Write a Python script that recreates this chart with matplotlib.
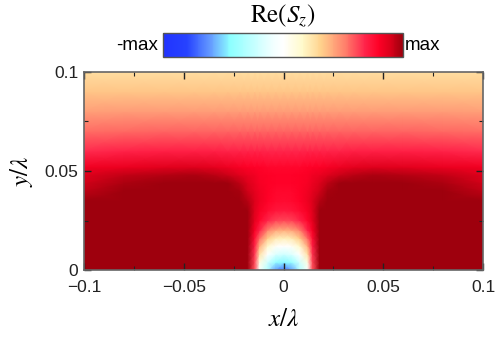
import numpy as np
import matplotlib
matplotlib.use("Agg")
import matplotlib.pyplot as plt
from matplotlib.colors import LinearSegmentedColormap, Normalize

plt.rcParams["font.family"] = ["Liberation Sans", "DejaVu Sans"]
plt.rcParams["mathtext.fontset"] = "stix"

# ── data: Re(Sz), normalised to max (left half, x <= 0) ──
x_left = [-0.1, -0.08, -0.06, -0.045, -0.035, -0.028, -0.022, -0.018,
          -0.0145, -0.012, -0.008, -0.004, 0.0]
y_rows = [0.0, 0.004, 0.008, 0.012, 0.016, 0.02, 0.025, 0.03, 0.035,
          0.04, 0.044, 0.048, 0.052, 0.06, 0.07, 0.08, 0.09, 0.1]
sz_left = [
    [1.60, 1.60, 1.60, 1.60, 1.60, 1.60, 1.60, 1.40, 0.60, -0.05, -0.30, -0.60, -0.70],
    [1.60, 1.60, 1.60, 1.60, 1.60, 1.60, 1.55, 1.35, 0.62, 0.10, -0.20, -0.40, -0.45],
    [1.55, 1.55, 1.55, 1.55, 1.55, 1.55, 1.50, 1.30, 0.65, 0.25, 0.00, -0.15, -0.20],
    [1.50, 1.50, 1.50, 1.50, 1.50, 1.50, 1.45, 1.25, 0.70, 0.40, 0.15, 0.03, 0.00],
    [1.45, 1.45, 1.45, 1.45, 1.45, 1.45, 1.40, 1.20, 0.75, 0.55, 0.33, 0.22, 0.20],
    [1.40, 1.40, 1.40, 1.40, 1.40, 1.35, 1.30, 1.12, 0.82, 0.68, 0.50, 0.42, 0.40],
    [1.30, 1.32, 1.35, 1.35, 1.33, 1.28, 1.20, 1.05, 0.86, 0.78, 0.68, 0.63, 0.62],
    [1.15, 1.22, 1.27, 1.28, 1.26, 1.20, 1.12, 1.00, 0.88, 0.82, 0.76, 0.73, 0.72],
    [1.00, 1.10, 1.20, 1.22, 1.20, 1.15, 1.05, 0.96, 0.89, 0.84, 0.79, 0.77, 0.76],
    [0.94, 1.02, 1.10, 1.12, 1.10, 1.06, 0.98, 0.91, 0.86, 0.83, 0.80, 0.78, 0.78],
    [0.91, 0.97, 1.04, 1.05, 1.03, 1.00, 0.94, 0.89, 0.85, 0.82, 0.80, 0.79, 0.79],
    [0.88, 0.93, 0.96, 0.97, 0.95, 0.92, 0.88, 0.85, 0.83, 0.81, 0.80, 0.79, 0.79],
    [0.83, 0.85, 0.87, 0.88, 0.86, 0.84, 0.82, 0.80, 0.79, 0.79, 0.78, 0.78, 0.78],
    [0.67, 0.69, 0.70, 0.70, 0.70, 0.69, 0.69, 0.69, 0.69, 0.69, 0.68, 0.68, 0.68],
    [0.55, 0.56, 0.57, 0.57, 0.57, 0.57, 0.57, 0.57, 0.57, 0.57, 0.57, 0.57, 0.57],
    [0.44, 0.45, 0.45, 0.45, 0.45, 0.45, 0.45, 0.45, 0.45, 0.45, 0.45, 0.45, 0.45],
    [0.35, 0.35, 0.35, 0.35, 0.35, 0.35, 0.35, 0.35, 0.35, 0.35, 0.35, 0.35, 0.35],
    [0.27, 0.27, 0.27, 0.27, 0.27, 0.27, 0.27, 0.27, 0.27, 0.27, 0.27, 0.27, 0.27],
]

x_ticks = [-0.1, -0.05, 0, 0.05, 0.1]
x_ticklabels = ["\u22120.1", "\u22120.05", "0", "0.05", "0.1"]
y_ticks = [0, 0.05, 0.1]
y_ticklabels = ["0", "0.05", "0.1"]

# field is mirror-symmetric about x = 0
xl = np.array(x_left)
x_full = np.concatenate([xl, -xl[-2::-1]])
sl = np.array(sz_left)
sz_full = np.concatenate([sl, sl[:, -2::-1]], axis=1)
X, Y = np.meshgrid(x_full, np.array(y_rows))

cmap = LinearSegmentedColormap.from_list("sz", [
    (0.00, (0.13, 0.20, 1.00)),
    (0.10, (0.15, 0.26, 1.00)),
    (0.20, (0.40, 0.62, 1.00)),
    (0.28, (0.55, 1.00, 1.00)),
    (0.45, (0.93, 1.00, 1.00)),
    (0.50, (1.00, 1.00, 1.00)),
    (0.58, (1.00, 0.98, 0.80)),
    (0.66, (1.00, 0.82, 0.55)),
    (0.76, (1.00, 0.50, 0.42)),
    (0.84, (1.00, 0.15, 0.30)),
    (0.90, (1.00, 0.00, 0.15)),
    (0.95, (0.85, 0.00, 0.10)),
    (1.00, (0.62, 0.00, 0.05)),
])
norm = Normalize(vmin=-1, vmax=1)

fig = plt.figure(figsize=(4.98, 3.44), dpi=100)
ax = fig.add_axes([0.1687, 0.215, 0.8013, 0.576])
mesh = ax.pcolormesh(X, Y, np.clip(sz_full, -1, 1), shading="gouraud",
                     cmap=cmap, norm=norm, rasterized=True)
ax.set_xlim(-0.1, 0.1); ax.set_ylim(0, 0.1)

ax.set_xticks(x_ticks); ax.set_xticklabels(x_ticklabels)
ax.set_yticks(y_ticks); ax.set_yticklabels(y_ticklabels)
ax.set_xticks(np.arange(-0.1, 0.1001, 0.025), minor=True)
ax.set_yticks([0.025, 0.075], minor=True)
ax.tick_params(which="both", direction="in", top=True, right=True,
               labelsize=12.5, colors="#222222")
ax.tick_params(axis="x", which="major", pad=7)
ax.tick_params(axis="y", which="major", pad=4)
ax.tick_params(which="major", length=5, width=1)
ax.tick_params(which="minor", length=3, width=0.8)
for s in ax.spines.values():
    s.set_color("#666666"); s.set_linewidth(1.2)

ax.set_xlabel(r"$x/\lambda$", fontsize=18, labelpad=9)
ax.set_ylabel(r"$y/\lambda$", fontsize=18, labelpad=7)

cax = fig.add_axes([0.327, 0.834, 0.482, 0.070])
cb = fig.colorbar(mesh, cax=cax, orientation="horizontal")
cb.set_ticks([])
cb.outline.set_edgecolor("#555555"); cb.outline.set_linewidth(1.0)
cax.text(-0.02, 0.5, "-max", transform=cax.transAxes, ha="right", va="center", fontsize=13.5)
cax.text(1.01, 0.5, "max", transform=cax.transAxes, ha="left", va="center", fontsize=13.5)
fig.text(0.568, 0.955, r"$\mathrm{Re}(S_z)$", ha="center", va="center", fontsize=18)

fig.savefig("out.png", dpi=100)
plt.close(fig)
